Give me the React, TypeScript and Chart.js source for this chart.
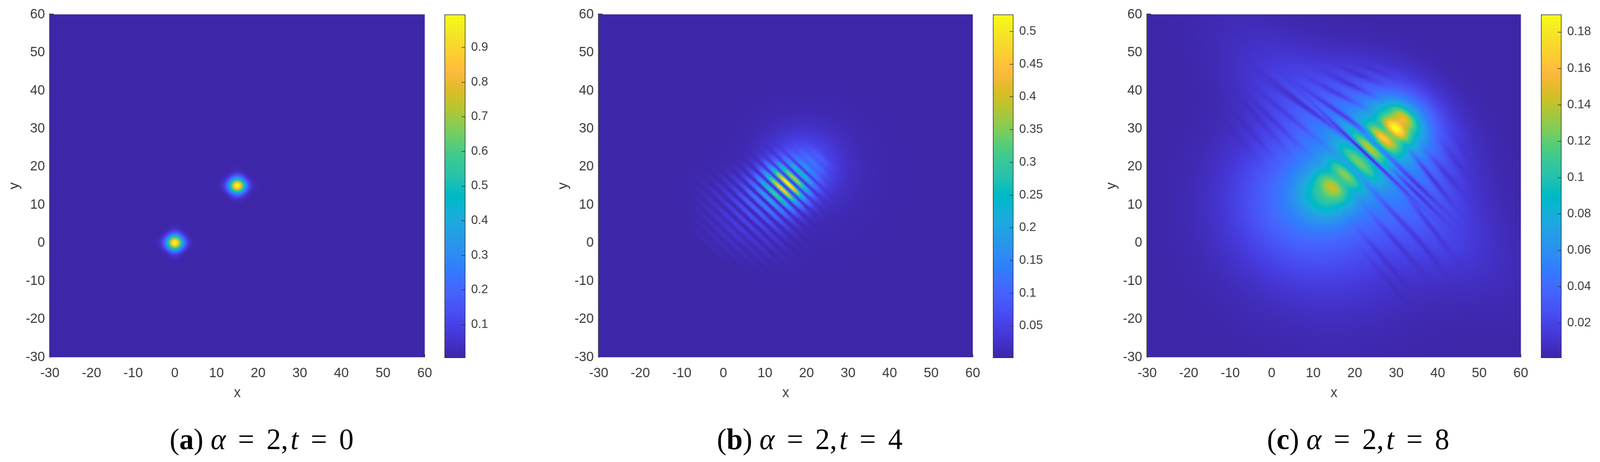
import React, { useEffect, useRef } from "react";
import { Chart, registerables } from "chart.js";
Chart.register(...registerables);

// Surfaces are hand-estimated from the reference: every row is read off the picture.
// Row layout: [x, y, value or depth, spread along, spread across, angle in degrees]
const xTicks = [-30, -20, -10, 0, 10, 20, 30, 40, 50, 60];
const yTicks = [-30, -20, -10, 0, 10, 20, 30, 40, 50, 60];
const cbTicksA = [0.1, 0.2, 0.3, 0.4, 0.5, 0.6, 0.7, 0.8, 0.9];
const cbTicksB = [0.05, 0.1, 0.15, 0.2, 0.25, 0.3, 0.35, 0.4, 0.45, 0.5];
const cbTicksC = [0.02, 0.04, 0.06, 0.08, 0.1, 0.12, 0.14, 0.16, 0.18];
const rangeA = [0.004, 0.995];
const rangeB = [0.0014, 0.5257];
const rangeC = [0.0009, 0.1896];

const peaksA = [
  [0, 0, 0.84, 1.35, 1.35, 0],
  [0, 0, 0.08, 2.4, 1.0, 0],
  [0, 0, 0.08, 2.4, 1.0, 90],
  [15, 15, 0.84, 1.35, 1.35, 0],
  [15, 15, 0.08, 2.4, 1.0, 0],
  [15, 15, 0.08, 2.4, 1.0, 90],
];
const nullsA: number[][] = [];

const peaksB = [
  [19, 20, 0.075, 6, 6, 0],
  [20, 18, 0.012, 13, 13, 0],
  [23.2, 22.4, 0.03, 2.6, 0.6, -46],
  [21.6, 21.0, 0.05, 3.0, 0.55, -46],
  [20.1, 19.6, 0.085, 3.4, 0.55, -46],
  [18.6, 18.3, 0.16, 3.6, 0.55, -46],
  [17.0, 16.9, 0.32, 3.6, 0.55, -46],
  [15.5, 15.56, 0.47, 3.7, 0.55, -46],
  [14.0, 14.2, 0.43, 3.8, 0.55, -46],
  [12.4, 12.8, 0.29, 4.2, 0.55, -46],
  [10.9, 11.5, 0.18, 4.8, 0.55, -46],
  [9.4, 10.1, 0.125, 5.5, 0.55, -46],
  [7.8, 8.8, 0.09, 6.0, 0.55, -46],
  [6.3, 7.4, 0.065, 6.8, 0.55, -46],
  [4.8, 6.0, 0.05, 7.5, 0.55, -46],
  [3.2, 4.7, 0.04, 7.5, 0.55, -46],
  [1.7, 3.3, 0.03, 7.5, 0.55, -46],
  [0.2, 1.9, 0.022, 7.0, 0.55, -46],
  [-1.3, 0.6, 0.016, 6, 0.55, -46],
  [-2.9, -0.8, 0.011, 5, 0.55, -46],
];
const nullsB = [
  [19.4, 19.0, 0.7, 5, 0.28, -46],
  [17.8, 17.6, 0.8, 6, 0.28, -46],
  [16.3, 16.2, 0.85, 6, 0.28, -46],
  [14.75, 14.9, 0.85, 7, 0.28, -46],
  [13.2, 13.5, 0.85, 8, 0.28, -46],
  [11.65, 12.15, 0.85, 9, 0.28, -46],
  [10.15, 10.8, 0.85, 10, 0.28, -46],
  [8.6, 9.45, 0.8, 10, 0.28, -46],
  [7.05, 8.1, 0.8, 10, 0.28, -46],
  [5.55, 6.7, 0.75, 10, 0.28, -46],
  [4.0, 5.35, 0.7, 10, 0.28, -46],
];

const peaksC = [
  [13.5, 13, 0.052, 4.5, 4.5, 0],
  [8, 12, 0.03, 11, 11, 0],
  [15, 8, 0.025, 17, 17, 0],
  [22, 23, 0.032, 24, 8, -45],
  [30, 30.5, 0.06, 5, 5, 0],
  [30, 31, 0.04, 11, 7.5, -45],
  [29.8, 29.9, 0.075, 2.4, 1.2, -45],
  [27, 27.2, 0.06, 3, 1.2, -45],
  [31.9, 32.9, 0.05, 2.6, 1.3, -45],
  [24, 24.5, 0.06, 4.5, 1.3, -45],
  [20.9, 21, 0.056, 4.5, 1.3, -45],
  [17.8, 18, 0.05, 3.5, 1.4, -45],
  [14.7, 14.9, 0.036, 2.8, 1.6, -45],
];
const nullsC = [
  [22.8, 23.3, 0.92, 12, 0.36, -46],
  [8, 36, 0.55, 10, 0.42, -40],
  [35, 13, 0.7, 7, 0.42, -47],
  [25.5, 25.5, 0.5, 7, 0.55, -45],
  [16, 34.4, 0.65, 7, 0.45, -37],
  [35.2, 15.2, 0.7, 7, 0.42, -46],
  [27.5, 29.5, 0.22, 3, 0.8, -45],
  [15.7, 39.3, 0.5, 5, 0.5, -30],
  [38.7, 16.9, 0.65, 6, 0.42, -54],
  [18.7, 41.7, 0.55, 4.5, 0.5, -28],
  [41.9, 18.3, 0.5, 4.5, 0.5, -52],
  [21.5, 44, 0.45, 4, 0.5, -25],
  [44.1, 21.9, 0.35, 4, 0.5, -56],
  [25, 45.3, 0.3, 3.5, 0.5, -22],
  [45.9, 25, 0.2, 3, 0.5, -60],
  [28.8, 47, 0.15, 3, 0.5, -18],
  [6, 37, 0.4, 7, 0.45, -36],
  [3.7, 33.7, 0.4, 7, 0.45, -42],
  [0.2, 32.3, 0.4, 7, 0.45, -47],
  [-3.3, 32.7, 0.35, 7, 0.5, -51],
  [-5.7, 30.1, 0.3, 6, 0.5, -52],
  [-8.8, 28.6, 0.25, 6, 0.5, -52],
  [19.5, 19.5, 0.25, 4, 1, -45],
  [16.5, 16.5, 0.12, 3, 1, -45],
  [30.6, 6.3, 0.5, 7, 0.45, -50],
  [37.6, 5.3, 0.5, 7, 0.45, -55],
  [30.3, -0.2, 0.45, 7, 0.45, -51],
  [27.3, -4.6, 0.4, 7, 0.45, -52],
  [27.9, -9.8, 0.3, 6, 0.45, -52],
  [37.6, -2.2, 0.3, 6, 0.45, -55],
];

const parula = [
  [.2422,.1504,.6603],[.2504,.1650,.7076],[.2578,.1818,.7511],[.2647,.1978,.7952],[.2706,.2147,.8364],[.2751,.2342,.8710],[.2783,.2559,.8991],[.2803,.2782,.9221],
  [.2813,.3006,.9414],[.2810,.3228,.9579],[.2795,.3447,.9717],[.2760,.3667,.9829],[.2699,.3892,.9906],[.2602,.4123,.9952],[.2440,.4358,.9988],[.2206,.4603,.9973],
  [.1963,.4847,.9892],[.1834,.5074,.9798],[.1786,.5289,.9682],[.1764,.5499,.9520],[.1687,.5703,.9359],[.1540,.5902,.9218],[.1460,.6091,.9079],[.1380,.6276,.8973],
  [.1248,.6459,.8883],[.1113,.6635,.8763],[.0952,.6798,.8598],[.0689,.6948,.8394],[.0297,.7082,.8163],[.0036,.7203,.7917],[.0067,.7312,.7660],[.0433,.7411,.7394],
  [.0964,.7500,.7120],[.1408,.7584,.6842],[.1717,.7670,.6554],[.1938,.7758,.6251],[.2161,.7843,.5923],[.2470,.7918,.5567],[.2906,.7973,.5188],[.3406,.8008,.4789],
  [.3909,.8029,.4354],[.4456,.8024,.3909],[.5044,.7993,.3480],[.5616,.7942,.3045],[.6174,.7876,.2612],[.6720,.7793,.2227],[.7242,.7698,.1910],[.7738,.7598,.1646],
  [.8203,.7498,.1535],[.8634,.7406,.1596],[.9035,.7330,.1774],[.9393,.7288,.2100],[.9728,.7298,.2394],[.9956,.7434,.2371],[.9970,.7659,.2199],[.9952,.7893,.2028],
  [.9892,.8136,.1885],[.9786,.8386,.1766],[.9676,.8639,.1643],[.9610,.8890,.1537],[.9597,.9135,.1423],[.9628,.9373,.1265],[.9691,.9606,.1064],[.9769,.9839,.0805],
];

const TEXT = "#3a3a3a";
const FAMILY = '"Liberation Sans", Arial, sans-serif';
const DESIGN_W = 4201;

function cmap(t: number): [number, number, number] {
  const u = Math.max(0, Math.min(1, t)) * 63;
  const i = Math.min(62, Math.floor(u));
  const f = u - i;
  const a = parula[i], b = parula[i + 1];
  return [
    255 * (a[0] + (b[0] - a[0]) * f),
    255 * (a[1] + (b[1] - a[1]) * f),
    255 * (a[2] + (b[2] - a[2]) * f),
  ];
}

const asPoint = (r: number[]) => ({ x: r[0], y: r[1], v: r[2], al: r[3], ac: r[4], ang: r[5] });

function prep(points: any[]) {
  return points.map((p) => {
    const th = (p.ang * Math.PI) / 180;
    return { x: p.x, y: p.y, v: p.v, c: Math.cos(th), s: Math.sin(th), a: 1 / (2 * p.al * p.al), b: 1 / (2 * p.ac * p.ac) };
  });
}

const surfacePlugin = {
  id: "surface",
  beforeDatasetsDraw(chart: any, _args: any, opts: any) {
    const area = chart.chartArea;
    const { x: xs, y: ys } = chart.scales;
    if (!chart.$surface) {
      const step = 2;
      const w = Math.ceil((area.right - area.left) / step);
      const h = Math.ceil((area.bottom - area.top) / step);
      const off = document.createElement("canvas");
      off.width = w;
      off.height = h;
      const octx = off.getContext("2d")!;
      const img = octx.createImageData(w, h);
      const peaks = prep(chart.data.datasets[0].data);
      const nulls = prep(chart.data.datasets[1].data);
      const [lo, hi] = opts.range;
      for (let j = 0; j < h; j++) {
        const dy0 = ys.getValueForPixel(area.top + (j + 0.5) * step);
        for (let i = 0; i < w; i++) {
          const dx0 = xs.getValueForPixel(area.left + (i + 0.5) * step);
          let sum = 0;
          for (const p of peaks) {
            const dx = dx0 - p.x, dy = dy0 - p.y;
            const u = dx * p.c + dy * p.s, n = -dx * p.s + dy * p.c;
            const e = u * u * p.a + n * n * p.b;
            if (e < 16) sum += p.v * Math.exp(-e);
          }
          for (const p of nulls) {
            const dx = dx0 - p.x, dy = dy0 - p.y;
            const u = dx * p.c + dy * p.s, n = -dx * p.s + dy * p.c;
            const e = u * u * p.a + n * n * p.b;
            if (e < 12) sum *= 1 - p.v * Math.exp(-e);
          }
          const [r, g, b] = cmap((sum - lo) / (hi - lo));
          const k = (j * w + i) * 4;
          img.data[k] = r;
          img.data[k + 1] = g;
          img.data[k + 2] = b;
          img.data[k + 3] = 255;
        }
      }
      octx.putImageData(img, 0, 0);
      chart.$surface = off;
    }
    const ctx = chart.ctx;
    ctx.save();
    ctx.imageSmoothingEnabled = true;
    ctx.imageSmoothingQuality = "high";
    ctx.drawImage(chart.$surface, area.left, area.top, area.right - area.left, area.bottom - area.top);
    ctx.restore();
  },
  afterDatasetsDraw(chart: any) {
    const area = chart.chartArea;
    const ctx = chart.ctx;
    const ys = chart.scales.y;
    const { left, right, top, bottom } = area;
    ctx.save();
    ctx.strokeStyle = "#c9c9d8";
    ctx.lineWidth = 1;
    ctx.beginPath();
    ctx.moveTo(left, top - 0.5);
    ctx.lineTo(right, top - 0.5);
    ctx.moveTo(right + 0.5, top);
    ctx.lineTo(right + 0.5, bottom);
    ctx.stroke();
    ctx.strokeStyle = "#505050";
    ctx.lineWidth = 2;
    ctx.beginPath();
    ctx.moveTo(left - 1, top - 1);
    ctx.lineTo(left - 1, bottom);
    ctx.stroke();
    ctx.strokeStyle = "#303030";
    ctx.beginPath();
    ctx.moveTo(left - 2, top - 1);
    ctx.lineTo(left + 10, top - 1);
    ctx.moveTo(right, bottom);
    ctx.lineTo(right, bottom - 8);
    for (const t of ys.ticks) {
      const py = ys.getPixelForValue(t.value);
      ctx.moveTo(left, py);
      ctx.lineTo(left + 2, py);
    }
    ctx.stroke();
    ctx.restore();
  },
};

const colorbarPlugin = {
  id: "cbFrame",
  afterDatasetsDraw(chart: any) {
    const { left, right, top, bottom } = chart.chartArea;
    const ys = chart.scales.y;
    const ctx = chart.ctx;
    ctx.save();
    ctx.strokeStyle = "#333";
    ctx.lineWidth = 1.5;
    ctx.strokeRect(left + 0.75, top + 0.75, right - left - 1.5, bottom - top - 0.5);
    ctx.beginPath();
    for (const t of ys.ticks) {
      const py = Math.round(ys.getPixelForValue(t.value)) + 0.5;
      ctx.moveTo(right, py);
      ctx.lineTo(right - 10, py);
    }
    ctx.stroke();
    ctx.restore();
  },
};

const PANELS = [
  { plotLeft: 131, plotW: 984, cbLeft: 1167, cbW: 55, peaks: peaksA, nulls: nullsA, range: rangeA, cbTicks: cbTicksA, cap: "a", t: "0", capX: 687 },
  { plotLeft: 1572, plotW: 982, cbLeft: 2607, cbW: 54, peaks: peaksB, nulls: nullsB, range: rangeB, cbTicks: cbTicksB, cap: "b", t: "4", capX: 2126 },
  { plotLeft: 3012, plotW: 981, cbLeft: 4046, cbW: 54, peaks: peaksC, nulls: nullsC, range: rangeC, cbTicks: cbTicksC, cap: "c", t: "8", capX: 3566 },
];
const MAIN_H = 1040;
const PLOT_TOP = 37;
const PLOT_BOTTOM = 914;
const AXIS_W = 131;
const MAIN_RIGHT_PAD = 40;
const CB_AXIS_W = 100;
const CB_H = 960;

function makeMain(canvas: HTMLCanvasElement, p: any) {
  const tickFont = { family: FAMILY, size: 35 };
  return new Chart(canvas, {
    type: "scatter",
    data: {
      datasets: [
        { label: "peaks", data: p.peaks.map(asPoint), pointRadius: 0 },
        { label: "nulls", data: p.nulls.map(asPoint), pointRadius: 0 },
      ],
    },
    plugins: [surfacePlugin],
    options: {
      animation: false,
      responsive: false,
      devicePixelRatio: 1,
      events: [],
      layout: { autoPadding: false, padding: { left: 0, top: PLOT_TOP, right: MAIN_RIGHT_PAD, bottom: 0 } },
      plugins: { legend: { display: false }, tooltip: { enabled: false }, surface: { range: p.range } },
      scales: {
        x: {
          type: "linear",
          min: -30,
          max: 60,
          grid: { display: false, drawTicks: false },
          border: { display: false },
          afterBuildTicks: (s: any) => { s.ticks = xTicks.map((value) => ({ value })); },
          afterFit: (s: any) => { s.height = MAIN_H - PLOT_BOTTOM; },
          ticks: { font: tickFont, color: TEXT, padding: 20, autoSkip: false, maxRotation: 0, callback: (v: any) => String(v) },
          title: { display: true, text: "x", font: { family: FAMILY, size: 36 }, color: TEXT, padding: { top: 0, bottom: 12 } },
        },
        y: {
          type: "linear",
          min: -30,
          max: 60,
          grid: { display: false, drawTicks: false },
          border: { display: false },
          afterBuildTicks: (s: any) => { s.ticks = yTicks.map((value) => ({ value })); },
          afterFit: (s: any) => { s.width = AXIS_W; },
          ticks: { font: tickFont, color: TEXT, padding: 13, autoSkip: false, maxRotation: 0, callback: (v: any) => String(v) },
          title: { display: true, text: "y", font: { family: FAMILY, size: 36 }, color: TEXT, padding: { top: 16, bottom: 0 } },
        },
      },
    },
  } as any);
}

function makeBar(canvas: HTMLCanvasElement, p: any) {
  const [lo, hi] = p.range;
  return new Chart(canvas, {
    type: "bar",
    data: {
      labels: ["scale"],
      datasets: [
        {
          data: [[lo, hi]],
          barPercentage: 1,
          categoryPercentage: 1,
          backgroundColor: (ctx: any) => {
            const { chart } = ctx;
            if (!chart.chartArea) return "#3e26a8";
            const ys = chart.scales.y;
            const g = chart.ctx.createLinearGradient(0, ys.getPixelForValue(lo), 0, ys.getPixelForValue(hi));
            parula.forEach((c, i) => {
              g.addColorStop(i / 63, `rgb(${c[0] * 255},${c[1] * 255},${c[2] * 255})`);
            });
            return g;
          },
        },
      ],
    },
    plugins: [colorbarPlugin],
    options: {
      animation: false,
      responsive: false,
      devicePixelRatio: 1,
      events: [],
      layout: { autoPadding: false, padding: { left: 0, top: PLOT_TOP, right: 0, bottom: CB_H - PLOT_BOTTOM - 1 } },
      plugins: { legend: { display: false }, tooltip: { enabled: false } },
      scales: {
        x: { display: false },
        y: {
          position: "right",
          type: "linear",
          min: lo,
          max: hi,
          grid: { display: false, drawTicks: false },
          border: { display: false },
          afterBuildTicks: (s: any) => { s.ticks = p.cbTicks.map((value: number) => ({ value })); },
          afterFit: (s: any) => { s.width = CB_AXIS_W; },
          ticks: { font: { family: FAMILY, size: 32 }, color: TEXT, padding: 15, autoSkip: false, callback: (v: any) => String(v) },
        },
      },
    },
  } as any);
}

const eq = { margin: "0 0.42em" };

export default function App() {
  const mainRefs = useRef<(HTMLCanvasElement | null)[]>([]);
  const barRefs = useRef<(HTMLCanvasElement | null)[]>([]);
  useEffect(() => {
    const charts: Chart[] = [];
    PANELS.forEach((p, i) => {
      charts.push(makeMain(mainRefs.current[i]!, p));
      charts.push(makeBar(barRefs.current[i]!, p));
    });
    return () => charts.forEach((c) => c.destroy());
  }, []);
  // The browser window is capped narrower than the design width, so the whole page is fitted to it.
  const sx = Math.min(1, window.innerWidth / DESIGN_W);
  return (
    <div
      style={{
        position: "absolute",
        left: 0,
        top: 0,
        width: DESIGN_W,
        height: 1182,
        overflow: "hidden",
        background: "#fff",
        transform: `scaleX(${sx})`,
        transformOrigin: "0 0",
      }}
    >
      {PANELS.map((p, i) => (
        <React.Fragment key={p.cap}>
          <canvas
            ref={(el) => { mainRefs.current[i] = el; }}
            width={AXIS_W + p.plotW + MAIN_RIGHT_PAD}
            height={MAIN_H}
            style={{ position: "absolute", left: p.plotLeft - AXIS_W, top: 0 }}
          />
          <canvas
            ref={(el) => { barRefs.current[i] = el; }}
            width={p.cbW + CB_AXIS_W}
            height={CB_H}
            style={{ position: "absolute", left: p.cbLeft, top: 0 }}
          />
          <div
            style={{
              position: "absolute",
              left: p.capX - 400,
              width: 800,
              top: 1073,
              height: 100,
              lineHeight: "100px",
              textAlign: "center",
              whiteSpace: "pre",
              fontFamily: '"Liberation Serif", serif',
              fontSize: 76,
              color: "#000",
            }}
          >
            (<b>{p.cap}</b>) <i>α</i><span style={eq}>=</span>2,<i style={{ marginLeft: "0.08em" }}>t</i><span style={eq}>=</span>{p.t}
          </div>
        </React.Fragment>
      ))}
    </div>
  );
}
